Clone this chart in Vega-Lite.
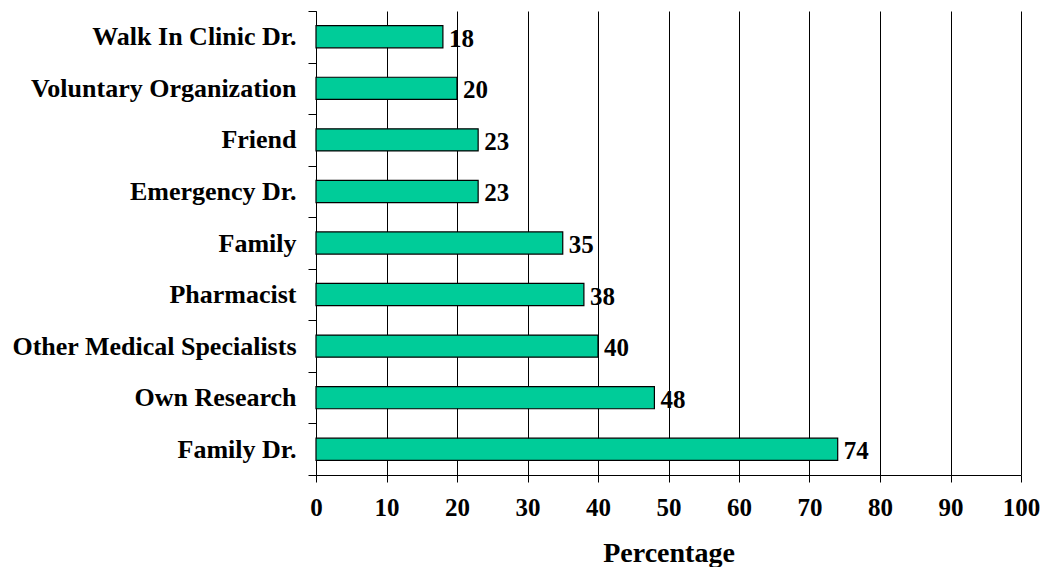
{
  "$schema": "https://vega.github.io/schema/vega-lite/v6.json",
  "autosize": "none",
  "width": 705,
  "height": 464,
  "padding": {"left": 316, "top": 11, "right": 21, "bottom": 92},
  "background": "white",
  "config": {"view": {"stroke": null}},
  "data": {"values": [
    {"source": "Walk In Clinic Dr.", "pct": 18},
    {"source": "Voluntary Organization", "pct": 20},
    {"source": "Friend", "pct": 23},
    {"source": "Emergency Dr.", "pct": 23},
    {"source": "Family", "pct": 35},
    {"source": "Pharmacist", "pct": 38},
    {"source": "Other Medical Specialists", "pct": 40},
    {"source": "Own Research", "pct": 48},
    {"source": "Family Dr.", "pct": 74}
  ]},
  "encoding": {
    "y": {
      "field": "source", "type": "nominal",
      "sort": ["Walk In Clinic Dr.", "Voluntary Organization", "Friend", "Emergency Dr.", "Family", "Pharmacist", "Other Medical Specialists", "Own Research", "Family Dr."],
      "scale": {"paddingInner": 0, "paddingOuter": 0},
      "axis": {
        "title": null, "tickBand": "extent", "tickSize": 8, "tickColor": "black", "domainColor": "black",
        "labelFont": "Liberation Serif", "labelFontWeight": "bold", "labelFontSize": 26, "labelColor": "black",
        "labelPadding": 12, "labelLimit": 400, "grid": false
      }
    },
    "x": {
      "field": "pct", "type": "quantitative",
      "scale": {"domain": [0, 100], "nice": false},
      "axis": {
        "title": "Percentage", "values": [0,10,20,30,40,50,60,70,80,90,100],
        "grid": true, "gridColor": "black", "gridOpacity": 1, "gridWidth": 1,
        "tickSize": 7, "tickColor": "black", "domainColor": "black", "labelFlush": false,
        "labelFont": "Liberation Serif", "labelFontWeight": "bold", "labelFontSize": 25, "labelColor": "black",
        "labelPadding": 13, "titleFont": "Liberation Serif", "titleFontWeight": "bold", "titleFontSize": 28,
        "titleColor": "black", "titlePadding": 19
      }
    }
  },
  "layer": [
    {"mark": {"type": "bar", "fill": "#00CC99", "stroke": "black", "strokeWidth": 1.2, "height": {"band": 0.43}}},
    {"mark": {"type": "text", "align": "left", "baseline": "middle", "dx": 6, "dy": 2, "font": "Liberation Serif", "fontWeight": "bold", "fontSize": 25, "color": "black"},
     "encoding": {"text": {"field": "pct", "type": "quantitative"}}}
  ]
}
